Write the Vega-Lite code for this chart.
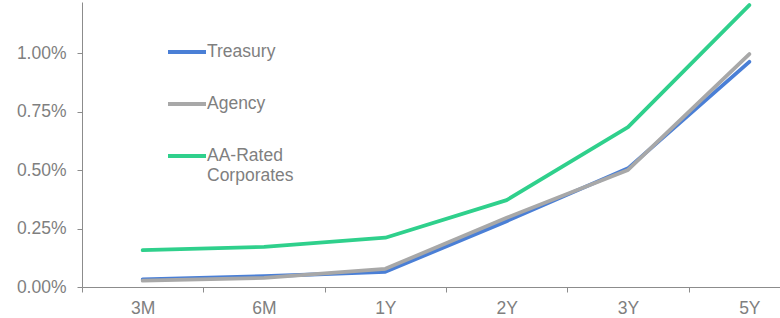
{
  "$schema": "https://vega.github.io/schema/vega-lite/v6.json",
  "autosize": {"type": "none"},
  "padding": {"left": 82, "top": 2, "right": 0, "bottom": 31},
  "width": 698,
  "height": 285,
  "background": "white",
  "config": {
    "view": {"stroke": null},
    "font": "Liberation Sans"
  },
  "data": {
    "values": [
      {"tenor": "3M", "series": "Treasury", "yield": 0.00033},
      {"tenor": "6M", "series": "Treasury", "yield": 0.00046},
      {"tenor": "1Y", "series": "Treasury", "yield": 0.00065},
      {"tenor": "2Y", "series": "Treasury", "yield": 0.00282},
      {"tenor": "3Y", "series": "Treasury", "yield": 0.00508},
      {"tenor": "5Y", "series": "Treasury", "yield": 0.00964},
      {"tenor": "3M", "series": "Agency", "yield": 0.00027},
      {"tenor": "6M", "series": "Agency", "yield": 0.00039},
      {"tenor": "1Y", "series": "Agency", "yield": 0.00078},
      {"tenor": "2Y", "series": "Agency", "yield": 0.00296},
      {"tenor": "3Y", "series": "Agency", "yield": 0.00501},
      {"tenor": "5Y", "series": "Agency", "yield": 0.00997},
      {"tenor": "3M", "series": "AA-Rated Corporates", "yield": 0.00158},
      {"tenor": "6M", "series": "AA-Rated Corporates", "yield": 0.00172},
      {"tenor": "1Y", "series": "AA-Rated Corporates", "yield": 0.00211},
      {"tenor": "2Y", "series": "AA-Rated Corporates", "yield": 0.00372},
      {"tenor": "3Y", "series": "AA-Rated Corporates", "yield": 0.00684},
      {"tenor": "5Y", "series": "AA-Rated Corporates", "yield": 0.01207}
    ]
  },
  "mark": {"type": "line", "strokeWidth": 3.8, "strokeCap": "round", "strokeJoin": "round"},
  "encoding": {
    "x": {
      "field": "tenor",
      "type": "ordinal",
      "sort": ["3M", "6M", "1Y", "2Y", "3Y", "5Y"],
      "bandPosition": 0.5,
      "scale": {"type": "band", "range": [0, 728], "paddingInner": 0, "paddingOuter": 0},
      "axis": {
        "title": null,
        "labelAngle": 0,
        "tickBand": "extent",
        "domainColor": "#8c8c8c",
        "tickColor": "#8c8c8c",
        "tickSize": 5,
        "labelColor": "#7f7f7f",
        "labelFontSize": 17.5,
        "labelPadding": 7,
        "grid": false
      }
    },
    "y": {
      "field": "yield",
      "type": "quantitative",
      "scale": {"domain": [0, 0.0122], "nice": false},
      "axis": {
        "title": null,
        "values": [0, 0.0025, 0.005, 0.0075, 0.01],
        "format": ".2%",
        "grid": false,
        "domainColor": "#8c8c8c",
        "tickColor": "#8c8c8c",
        "tickSize": 5,
        "labelColor": "#7f7f7f",
        "labelFontSize": 17.5,
        "labelPadding": 11
      }
    },
    "color": {
      "field": "series",
      "type": "nominal",
      "sort": ["Treasury", "Agency", "AA-Rated Corporates"],
      "scale": {
        "domain": ["Treasury", "Agency", "AA-Rated Corporates"],
        "range": ["#4a7fd6", "#a8a8a8", "#2fd08c"]
      },
      "legend": {
        "title": null,
        "orient": "none",
        "legendX": 84,
        "legendY": 29,
        "symbolType": "stroke",
        "symbolSize": 1444,
        "symbolStrokeWidth": 3.8,
        "labelFontSize": 17.5,
        "labelColor": "#7f7f7f",
        "labelOffset": -1,
        "rowPadding": 22,
        "labelLimit": 300,
        "labelExpr": "datum.label == 'AA-Rated Corporates' ? ['AA-Rated', 'Corporates'] : datum.label"
      }
    },
    "order": {"field": "series"}
  }
}
